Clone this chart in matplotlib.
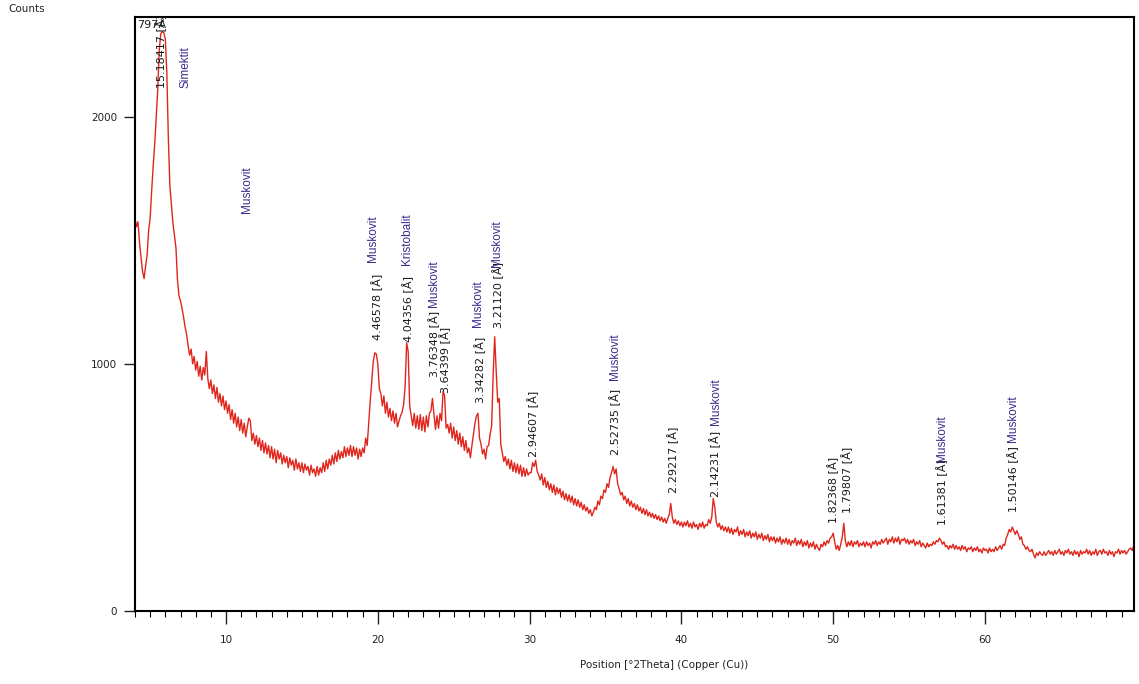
import numpy as np
import matplotlib.pyplot as plt
from matplotlib.ticker import MultipleLocator

# === DATA ===
# scan 1: 4.0 - 30.0 deg 2theta, step 0.1
SCAN1_START, SCAN1_STEP = 4.0, 0.1
COUNTS_1 = [
    1590, 1555, 1575, 1490, 1430, 1375, 1345, 1395, 1440, 1540,   # 4.0
    1590, 1700, 1800, 1890, 2000, 2110, 2270, 2335, 2345, 2340,   # 5.0
    2315, 2175, 1910, 1720, 1645, 1570, 1520, 1470, 1340, 1275,   # 6.0
    1255, 1225, 1190, 1150, 1120, 1075, 1035, 1060, 1000, 1030,   # 7.0
    975, 1010, 950, 990, 935, 985, 955, 1050, 940, 900,           # 8.0
    935, 880, 915, 860, 905, 845, 880, 830, 870, 815,             # 9.0
    850, 800, 835, 775, 815, 760, 800, 745, 785, 730,             # 10.0
    775, 720, 760, 705, 745, 780, 770, 690, 720, 675,             # 11.0
    710, 665, 700, 650, 690, 640, 680, 635, 670, 620,             # 12.0
    665, 615, 655, 600, 650, 615, 640, 595, 630, 600,             # 13.0
    625, 580, 620, 590, 610, 570, 615, 575, 600, 565,             # 14.0
    600, 560, 595, 570, 585, 550, 590, 560, 575, 545,             # 15.0
    585, 550, 580, 560, 600, 565, 610, 575, 615, 590,             # 16.0
    630, 595, 640, 605, 650, 615, 645, 620, 665, 625,             # 17.0
    660, 630, 670, 625, 665, 630, 660, 615, 655, 625,             # 18.0
    660, 640, 700, 670, 760, 850, 930, 1010, 1045, 1040,          # 19.0
    1000, 900, 880, 830, 870, 800, 845, 785, 820, 770,            # 20.0
    810, 760, 800, 745, 770, 790, 805, 835, 910, 1085,            # 21.0
    1050, 830, 790, 750, 800, 740, 790, 735, 795, 730,            # 22.0
    785, 725, 790, 745, 800, 810, 860, 795, 735, 790,             # 23.0
    740, 800, 770, 890, 870, 740, 755, 720, 760, 700,             # 24.0
    745, 690, 730, 675, 720, 665, 705, 650, 690, 640,             # 25.0
    660, 620, 670, 715, 760, 790, 800, 700, 675, 635,             # 26.0
    655, 615, 665, 670, 715, 750, 960, 1110, 970, 845,            # 27.0
    860, 675, 640, 605, 625, 590, 615, 575, 610, 565,             # 28.0
    600, 560, 595, 555, 590, 545, 580, 545, 575, 550,             # 29.0
    560,                                                          # 30.0
]

# scan 2: 30.1 - 69.8 deg 2theta, step 0.1
SCAN2_START, SCAN2_STEP = 30.1, 0.1
COUNTS_2 = [
    560, 600, 585, 610, 565, 550, 530, 555, 510, 540,   # 30.1
    500, 525, 490, 515, 480, 510, 470, 500, 475, 495,   # 31.1
    460, 485, 450, 475, 445, 470, 440, 465, 430, 455,   # 32.1
    425, 450, 420, 440, 410, 430, 405, 420, 395, 410,   # 33.1
    385, 400, 420, 410, 445, 430, 465, 455, 490, 480,   # 34.1
    515, 500, 540, 560, 585, 555, 575, 515, 495, 470,   # 35.1
    480, 450, 465, 435, 455, 425, 445, 420, 435, 410,   # 36.1
    430, 405, 420, 395, 415, 390, 410, 385, 400, 380,   # 37.1
    395, 375, 390, 370, 385, 365, 380, 360, 375, 355,   # 38.1
    375, 390, 435, 380, 355, 370, 350, 365, 345, 360,   # 39.1
    340, 360, 345, 365, 340, 355, 335, 360, 340, 350,   # 40.1
    330, 355, 340, 360, 335, 350, 345, 370, 355, 380,   # 41.1
    455, 420, 360, 340, 355, 330, 345, 325, 340, 320,   # 42.1
    340, 315, 335, 310, 330, 320, 340, 305, 325, 310,   # 43.1
    330, 300, 320, 305, 325, 295, 315, 300, 320, 290,   # 44.1
    310, 295, 315, 285, 305, 290, 310, 280, 300, 285,   # 45.1
    300, 275, 295, 280, 300, 270, 290, 275, 295, 270,   # 46.1
    290, 265, 285, 275, 295, 265, 285, 270, 290, 260,   # 47.1
    280, 265, 285, 255, 275, 260, 280, 250, 270, 255,   # 48.1
    245, 270, 260, 280, 265, 285, 275, 295, 300, 315,   # 49.1
    280, 250, 265, 245, 270, 300, 355, 285, 260, 280,   # 50.1
    265, 285, 260, 280, 270, 285, 260, 275, 265, 280,   # 51.1
    260, 280, 265, 275, 255, 280, 270, 285, 265, 280,   # 52.1
    270, 290, 275, 285, 295, 270, 290, 280, 300, 275,   # 53.1
    295, 280, 300, 270, 290, 285, 295, 275, 290, 270,   # 54.1
    285, 275, 290, 265, 280, 270, 285, 260, 275, 265,   # 55.1
    255, 275, 260, 270, 265, 280, 270, 285, 280, 295,   # 56.1
    285, 270, 280, 260, 265, 250, 265, 255, 270, 250,   # 57.1
    265, 250, 260, 245, 265, 250, 260, 240, 255, 250,   # 58.1
    260, 240, 255, 245, 260, 240, 250, 235, 255, 245,   # 59.1
    250, 235, 255, 240, 250, 240, 260, 245, 255, 265,   # 60.1
    250, 270, 265, 295, 310, 330, 320, 340, 325, 310,   # 61.1
    325, 310, 290, 300, 270, 265, 250, 260, 245, 240,   # 62.1
    250, 230, 215, 235, 225, 240, 230, 225, 240, 225,   # 63.1
    235, 245, 230, 240, 225, 245, 230, 240, 250, 230,   # 64.1
    240, 225, 245, 235, 250, 230, 240, 225, 245, 230,   # 65.1
    240, 220, 245, 230, 240, 235, 250, 230, 245, 225,   # 66.1
    240, 230, 250, 225, 240, 245, 230, 250, 235, 240,   # 67.1
    225, 245, 230, 240, 220, 240, 235, 250, 230, 245,   # 68.1
    235, 245, 230, 240, 250, 255, 245, 265,             # 69.1
]

# d-spacing labels: (2theta, bottom of label in counts, text)
D_POS = [5.71, 19.94, 21.98, 23.70, 24.42, 26.73, 27.91, 30.22, 35.62,
         39.44, 42.25, 49.98, 50.90, 57.16, 61.84]
D_BASE = [2117, 1097, 1089, 947, 883, 842, 1146, 623, 632,
          478, 462, 356, 397, 348, 401]
D_TEXT = ["15.18417 [Å]", "4.46578 [Å]", "4.04356 [Å]", "3.76348 [Å]",
          "3.64399 [Å]", "3.34282 [Å]", "3.21120 [Å]", "2.94607 [Å]",
          "2.52735 [Å]", "2.29217 [Å]", "2.14231 [Å]", "1.82368 [Å]",
          "1.79807 [Å]", "1.61381 [Å]", "1.50146 [Å]"]

# phase labels
PHASE_POS = [7.36, 11.38, 19.68, 21.92, 23.70, 26.60, 27.85, 35.62,
             42.25, 57.16, 61.84]
PHASE_BASE = [2117, 1611, 1413, 1401, 1231, 1150, 1393, 935,
              753, 603, 684]
PHASE_TEXT = ["Simektit", "Muskovit", "Muskovit", "Kristobalit", "Muskovit",
              "Muskovit", "Muskovit", "Muskovit", "Muskovit", "Muskovit",
              "Muskovit"]

# === BUILD SERIES ===
counts = np.array(COUNTS_1 + COUNTS_2, dtype=float)
two_theta = np.concatenate([
    SCAN1_START + SCAN1_STEP * np.arange(len(COUNTS_1)),
    SCAN2_START + SCAN2_STEP * np.arange(len(COUNTS_2)),
])

# === PLOT ===
fig = plt.figure(figsize=(11.39, 6.84), dpi=100)
ax = fig.add_axes([0.1185, 0.1067, 0.8775, 0.8689])

ax.plot(two_theta, counts, color="#e0261c", lw=1.0)

ax.set_xlim(4.0, 69.85)
ax.set_ylim(0, 2405)

ax.xaxis.set_major_locator(MultipleLocator(10))
ax.xaxis.set_minor_locator(MultipleLocator(1))
ax.set_yticks([0, 1000, 2000])
ax.tick_params(axis="x", which="major", length=9, width=1, pad=8,
               labelsize=7.5, colors="#222222")
ax.tick_params(axis="x", which="minor", length=4, width=0.8)
ax.tick_params(axis="y", which="major", length=8, width=1, pad=5,
               labelsize=7.5, colors="#222222")
for s in ax.spines.values():
    s.set_linewidth(1.5)
    s.set_color("black")

for x, y, t in zip(D_POS, D_BASE, D_TEXT):
    ax.text(x, y, t, rotation=90, ha="center", va="bottom",
            fontsize=8, color="#1a1a1a")
for x, y, t in zip(PHASE_POS, PHASE_BASE, PHASE_TEXT):
    ax.text(x, y, t, rotation=90, ha="center", va="bottom",
            fontsize=8.5, color="#3a2d8c", family="Liberation Sans")

ax.text(4.13, 2372, "797Å", ha="left", va="center", fontsize=8,
        color="#1a1a1a")

fig.text(0.007, 1 - 9.5 / 684, "Counts", ha="left", va="center",
         fontsize=7.5, color="#222222")
fig.text(664 / 1139, 1 - 665 / 684, "Position [°2Theta] (Copper (Cu))",
         ha="center", va="center", fontsize=7.5, color="#222222")

fig.savefig("out.png", dpi=100)
